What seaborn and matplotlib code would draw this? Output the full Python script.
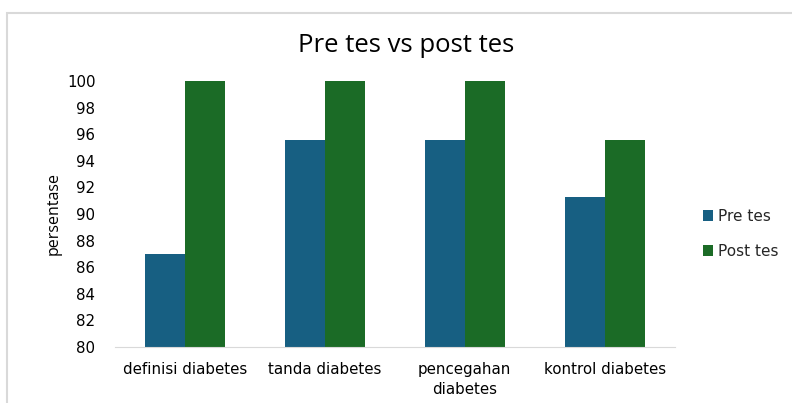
import pandas as pd
import matplotlib
matplotlib.use("Agg")
import matplotlib.pyplot as plt
import seaborn as sns
from matplotlib.patches import Rectangle

# Data
categories = ["definisi diabetes", "tanda diabetes", "pencegahan\ndiabetes", "kontrol diabetes"]
pre_tes = [87.0, 95.6, 95.6, 91.3]
post_tes = [100.0, 100.0, 100.0, 95.6]
series_names = ["Pre tes", "Post tes"]
y_ticks = list(range(80, 101, 2))

df = pd.DataFrame({
    "kategori": categories * 2,
    "nilai": pre_tes + post_tes,
    "seri": [series_names[0]] * len(categories) + [series_names[1]] * len(categories),
})

sns.set_style("white")
plt.rcParams["font.family"] = ["DejaVu Sans"]

fig = plt.figure(figsize=(7.92, 4.03), dpi=100)
ax = fig.add_axes([0.145, 0.139, 0.707, 0.66])

# chart frame like the office export
fig.patches.append(Rectangle((7 / 792, -0.1), 1.0, 1 - 13 / 403 + 0.1,
                             transform=fig.transFigure, fill=False,
                             edgecolor="#d9d9d9", linewidth=1.5))

palette = {"Pre tes": "#175f82", "Post tes": "#1b6b26"}
sns.barplot(data=df, x="kategori", y="nilai", hue="seri", palette=palette,
            width=0.57, saturation=1, linewidth=0, ax=ax, order=categories)

ax.set_ylim(80, 100)
ax.set_yticks(y_ticks)
ax.tick_params(axis="both", length=0, labelsize=10.8, labelcolor="black")
ax.tick_params(axis="y", pad=14)
ax.tick_params(axis="x", pad=11)
for lbl in ax.get_xticklabels():
    lbl.set_linespacing(1.4)
ax.set_xlabel("")
ax.set_ylabel("persentase", fontsize=11.5, family="Open Sans", color="black")
ax.yaxis.set_label_coords(-0.095, 0.5)

for side in ["top", "right", "left"]:
    ax.spines[side].set_visible(False)
ax.spines["bottom"].set_color("#d9d9d9")

fig.text(0.513, 0.888, "Pre tes vs post tes", ha="center", va="center",
         fontsize=18.5, family="Open Sans", color="black")

ax.legend(loc="center left", bbox_to_anchor=(1.025, 0.425), frameon=False,
          handlelength=0.7, handleheight=0.7, handletextpad=0.3,
          labelspacing=1.3, fontsize=11)

fig.savefig("out.png", dpi=100)
